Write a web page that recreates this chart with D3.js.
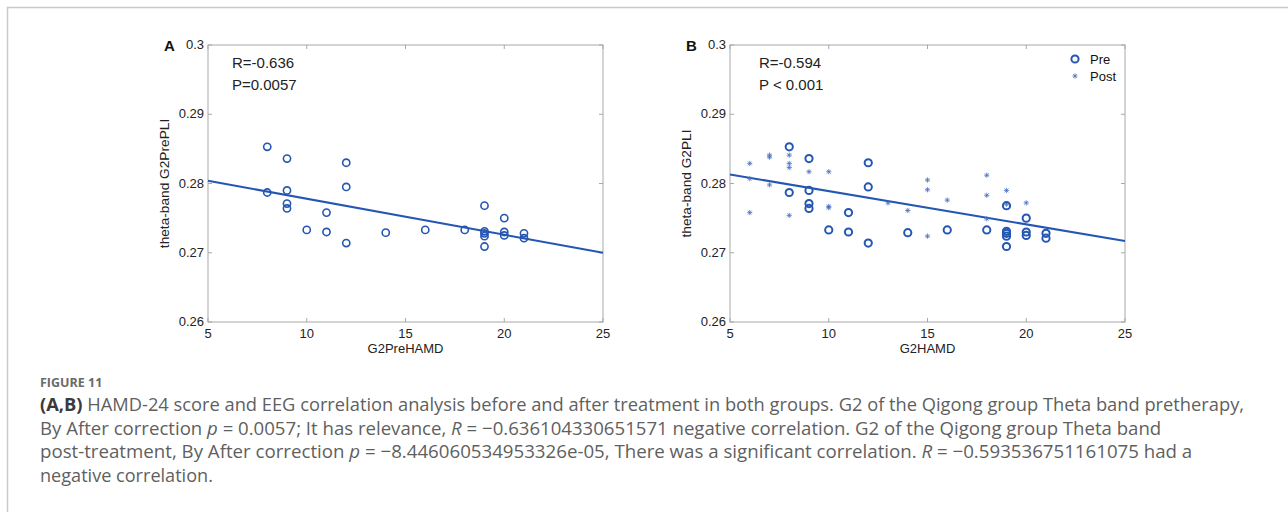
<!DOCTYPE html>
<html>
<head>
<meta charset="utf-8">
<script src="https://cdn.jsdelivr.net/npm/d3@7"></script>
<style>
  body { margin: 0; background: #fff; }
  svg text { font-family: "Liberation Sans", Arial, sans-serif; }
  .cap { font-family: "Open Sans", "Noto Sans", sans-serif; fill: #5f5f5f; }
</style>
</head>
<body>
<svg id="fig" width="1288" height="512"></svg>
<script>

  ///////////////////////////////// Data /////////////////////////////////

  // pre-treatment HAMD / PLI (same points in both panels)
  var preX = [8, 8, 9, 9, 9, 9, 10, 11, 11, 12, 12, 12, 14, 16, 18, 19, 19, 19, 19, 19, 20, 20, 20, 21, 21]
  var preY = [0.2853, 0.2787, 0.2836, 0.2790, 0.2771, 0.2764, 0.2733, 0.2758, 0.2730, 0.2830, 0.2795, 0.2714,
              0.2729, 0.2733, 0.2733, 0.2768, 0.2731, 0.2728, 0.2724, 0.2709, 0.2750, 0.2730, 0.2725, 0.2728, 0.2721]

  // post-treatment points (panel B only)
  var postX = [6, 6, 6, 7, 7, 7, 8, 8, 8, 8, 9, 10, 10, 10, 13, 14, 15, 15, 15, 16, 18, 18, 18, 19, 19, 20]
  var postY = [0.2829, 0.2807, 0.2758, 0.2841, 0.2838, 0.2798, 0.2841, 0.2829, 0.2823, 0.2754, 0.2817,
               0.2817, 0.2767, 0.2765, 0.2772, 0.2761, 0.2805, 0.2791, 0.2724, 0.2776, 0.2812, 0.2783,
               0.2749, 0.2790, 0.2770, 0.2772]

  // fitted lines, value at x = 5 and x = 25
  var fitX = [5, 25]
  var fitA = [0.2804, 0.2700]
  var fitB = [0.2813, 0.2717]

  var xTicks = [5, 10, 15, 20, 25]
  var yTicks = [0.26, 0.27, 0.28, 0.29, 0.3]

  var panels = [
    { tag: "A", left: 208, xLabel: "G2PreHAMD", yLabel: "theta-band G2PrePLI", r: "R=-0.636", p: "P=0.0057", fit: fitA, post: false },
    { tag: "B", left: 730, xLabel: "G2HAMD", yLabel: "theta-band G2PLI", r: "R=-0.594", p: "P < 0.001", fit: fitB, post: true }
  ]

  var captionLines = [
    [["(A,B)", "b"], [" HAMD-24 score and EEG correlation analysis before and after treatment in both groups. G2 of the Qigong group Theta band pretherapy,"]],
    [["By After correction "], ["p", "i"], [" = 0.0057; It has relevance, "], ["R", "i"], [" = \u22120.636104330651571 negative correlation. G2 of the Qigong group Theta band"]],
    [["post-treatment, By After correction "], ["p", "i"], [" = \u22128.446060534953326e-05, There was a significant correlation. "], ["R", "i"], [" = \u22120.593536751161075 had a"]],
    [["negative correlation."]]
  ]
  var captionEnds = [1245, 1162, 1193, 213]

  ///////////////////////////////// Setup /////////////////////////////////

  var svg = d3.select("#fig")
  var plotW = 395, plotTop = 45, plotBottom = 322
  var blue = "#2456b3", axisCol = "#a8a8a8"

  // outer frame
  svg.append("path")
    .attr("d", "M7.5,512 V7.5 H1288")
    .attr("fill", "none").attr("stroke", "#c9c9c9").attr("stroke-width", 1.5)

  var y = d3.scaleLinear().domain([0.26, 0.3]).range([plotBottom, plotTop])

  function star(g, cx, cy) {
    var s = 2.6, d = s * 0.72
    g.append("path")
      .attr("d", "M" + (cx - s) + "," + cy + "H" + (cx + s) +
                 "M" + cx + "," + (cy - s) + "V" + (cy + s) +
                 "M" + (cx - d) + "," + (cy - d) + "L" + (cx + d) + "," + (cy + d) +
                 "M" + (cx - d) + "," + (cy + d) + "L" + (cx + d) + "," + (cy - d))
      .attr("stroke", "#4a71c2").attr("stroke-width", 0.8).attr("fill", "none")
  }

  panels.forEach(function(p) {
    var x = d3.scaleLinear().domain([5, 25]).range([p.left, p.left + plotW])
    var g = svg.append("g")

    // box with inward ticks on all sides
    g.append("rect")
      .attr("x", p.left).attr("y", plotTop).attr("width", plotW).attr("height", plotBottom - plotTop)
      .attr("fill", "none").attr("stroke", axisCol).attr("stroke-width", 1)

    var tk = 4
    xTicks.forEach(function(t) {
      g.append("line").attr("x1", x(t)).attr("x2", x(t)).attr("y1", plotBottom).attr("y2", plotBottom - tk).attr("stroke", axisCol)
      g.append("line").attr("x1", x(t)).attr("x2", x(t)).attr("y1", plotTop).attr("y2", plotTop + tk).attr("stroke", axisCol)
      g.append("text").attr("x", x(t)).attr("y", plotBottom + 16)
        .attr("text-anchor", "middle").attr("font-size", 13).attr("fill", "#222").text(t)
    })
    yTicks.forEach(function(t) {
      g.append("line").attr("x1", p.left).attr("x2", p.left + tk).attr("y1", y(t)).attr("y2", y(t)).attr("stroke", axisCol)
      g.append("line").attr("x1", p.left + plotW).attr("x2", p.left + plotW - tk).attr("y1", y(t)).attr("y2", y(t)).attr("stroke", axisCol)
      g.append("text").attr("x", p.left - 4).attr("y", y(t) + 4)
        .attr("text-anchor", "end").attr("font-size", 13).attr("fill", "#222").text(d3.format("")(t))
    })

    g.append("text").attr("x", p.left + plotW / 2).attr("y", plotBottom + 31)
      .attr("text-anchor", "middle").attr("font-size", 13).attr("fill", "#222").text(p.xLabel)
    g.append("text")
      .attr("transform", "translate(" + (p.left - 39) + "," + ((plotTop + plotBottom) / 2) + ") rotate(-90)")
      .attr("text-anchor", "middle").attr("font-size", 13.7).attr("fill", "#222").text(p.yLabel)

    g.append("text").attr("x", p.left - 44).attr("y", plotTop + 6)
      .attr("font-size", 15).attr("font-weight", "bold").attr("fill", "#111").text(p.tag)

    g.append("text").attr("x", p.left + 24 + (p.post ? 5 : 0)).attr("y", 68).attr("font-size", 15).attr("fill", "#222").text(p.r)
    g.append("text").attr("x", p.left + 24 + (p.post ? 5 : 0)).attr("y", 90).attr("font-size", 15).attr("fill", "#222").text(p.p)

    // fitted line
    g.append("line")
      .attr("x1", x(fitX[0])).attr("y1", y(p.fit[0]))
      .attr("x2", x(fitX[1])).attr("y2", y(p.fit[1]))
      .attr("stroke", blue).attr("stroke-width", 2)

    if (p.post) {
      postX.forEach(function(v, i) { star(g, x(v), y(postY[i])) })
    }

    g.selectAll(".pre").data(preX).enter().append("circle")
      .attr("cx", function(d) { return x(d) })
      .attr("cy", function(d, i) { return y(preY[i]) })
      .attr("r", 3.6)
      .attr("fill", "none").attr("stroke", blue).attr("stroke-width", p.post ? 2 : 1.6)

    if (p.post) {
      var lx = 1075
      g.append("circle").attr("cx", lx).attr("cy", 59).attr("r", 3.6)
        .attr("fill", "none").attr("stroke", blue).attr("stroke-width", 2)
      star(g, lx, 76)
      g.append("text").attr("x", lx + 15).attr("y", 64).attr("font-size", 13).attr("fill", "#111").text("Pre")
      g.append("text").attr("x", lx + 15).attr("y", 81).attr("font-size", 13).attr("fill", "#111").text("Post")
    }
  })

  ///////////////////////////////// Caption /////////////////////////////////

  svg.append("text").attr("class", "cap").attr("x", 40).attr("y", 387)
    .attr("font-size", 12.5).attr("font-weight", "bold")
    .style("fill", "#6a6a6a").text("FIGURE 11")

  captionLines.forEach(function(parts, li) {
    var t = svg.append("text").attr("class", "cap").attr("x", 40).attr("y", 411 + li * 23.5)
      .attr("font-size", 16)
    parts.forEach(function(pt) {
      var s = t.append("tspan").text(pt[0])
      if (pt[1] === "b") s.attr("font-weight", "bold").style("fill", "#3a3a3a")
      if (pt[1] === "i") s.attr("font-style", "italic")
    })
    // scale the font so the line ends where it does in the figure
    var w = t.node().getComputedTextLength()
    t.attr("font-size", 16 * (captionEnds[li] - 40) / w)
  })

</script>
</body>
</html>
